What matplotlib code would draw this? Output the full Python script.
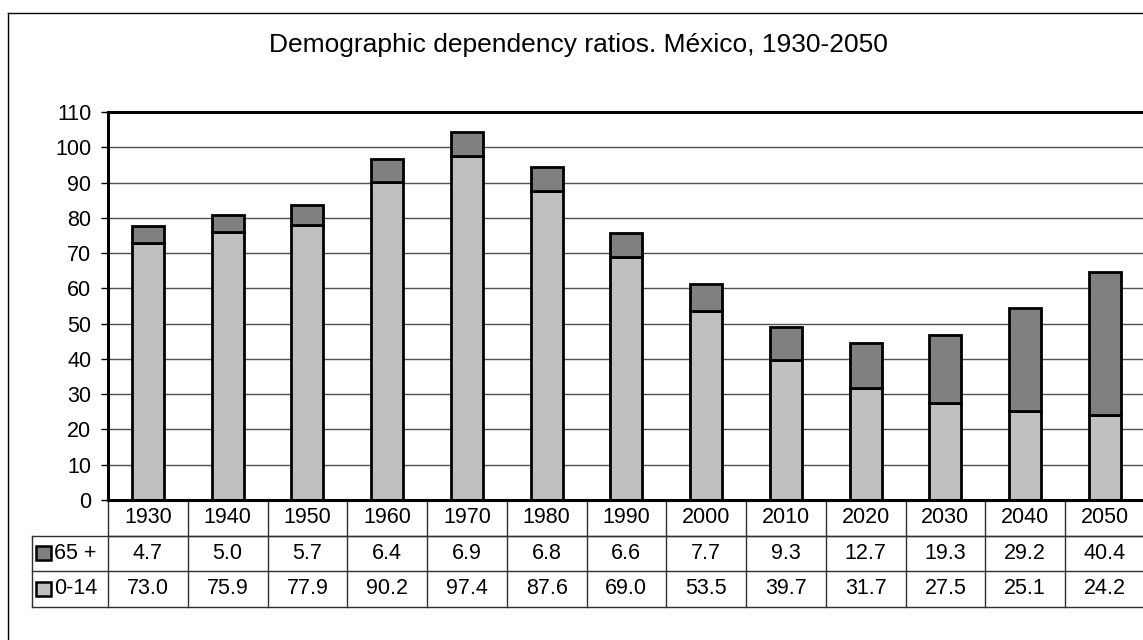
import numpy as np
import matplotlib
matplotlib.use("Agg")
import matplotlib.pyplot as plt
from matplotlib import transforms
from matplotlib.lines import Line2D
from matplotlib.patches import Rectangle

plt.rcParams['font.family'] = ['Liberation Sans', 'DejaVu Sans']

years = ['1930', '1940', '1950', '1960', '1970', '1980', '1990',
         '2000', '2010', '2020', '2030', '2040', '2050']
old_age = [4.7, 5.0, 5.7, 6.4, 6.9, 6.8, 6.6, 7.7, 9.3, 12.7, 19.3, 29.2, 40.4]
young = [73.0, 75.9, 77.9, 90.2, 97.4, 87.6, 69.0, 53.5, 39.7, 31.7, 27.5, 25.1, 24.2]
series_names = ['65 +', '0-14']

C_OLD = '#808080'
C_YOUNG = '#c0c0c0'
F = 15.5
W, H = 1143, 640

fig = plt.figure(figsize=(W / 100, H / 100), dpi=100)
fig.patch.set_facecolor('white')

# plot area in pixel terms: left 108, top 112, bottom 500, 13 columns of ~79.75 px
px_left, px_top, px_bot, col_w = 108, 112, 500, 79.75
ax = fig.add_axes([px_left / W, (H - px_bot) / H,
                   13 * col_w / W, (px_bot - px_top) / H])

x = np.arange(len(years))
ax.bar(x, young, width=0.4, color=C_YOUNG, edgecolor='black', linewidth=2, zorder=3)
ax.bar(x, old_age, width=0.4, bottom=young, color=C_OLD, edgecolor='black',
       linewidth=2, zorder=3)

ax.set_xlim(-0.5, len(years) - 0.5)
ax.set_ylim(0, 110)
ax.set_yticks(np.arange(0, 111, 10))
ax.tick_params(axis='y', labelsize=F, length=5, width=1, pad=7, direction='out')
ax.set_xticks([])
ax.grid(axis='y', color='#505050', linewidth=1, zorder=0)
for sp in ['left', 'bottom', 'top']:
    ax.spines[sp].set_linewidth(2.2)
    ax.spines[sp].set_color('black')
ax.spines['right'].set_visible(False)
ax.spines['bottom'].set_zorder(4)

# data table under the plot
trans = transforms.blended_transform_factory(ax.transData, ax.transAxes)
row_h = 35.5 / (px_bot - px_top)
leg_x = -0.5 - (px_left - 32) / col_w
right_x = len(years) - 0.5 + 0.1
line_kw = dict(color='#303030', linewidth=1, transform=trans, clip_on=False)

# horizontal rules
ax.add_line(Line2D([-0.5, right_x], [-row_h, -row_h], **line_kw))
for r in (1, 2, 3):
    ax.add_line(Line2D([leg_x, right_x], [-r * row_h, -r * row_h], **line_kw))
# vertical rules
for i in range(len(years) + 1):
    ax.add_line(Line2D([i - 0.5, i - 0.5], [0, -3 * row_h], **line_kw))
ax.add_line(Line2D([leg_x, leg_x], [-row_h, -3 * row_h], **line_kw))

for i, yr in enumerate(years):
    ax.text(i, -0.5 * row_h, yr, ha='center', va='center', fontsize=F, transform=trans)
    ax.text(i, -1.5 * row_h, '%.1f' % old_age[i], ha='center', va='center',
            fontsize=F, transform=trans)
    ax.text(i, -2.5 * row_h, '%.1f' % young[i], ha='center', va='center',
            fontsize=F, transform=trans)

# legend keys inside the table
key_w = 15 / col_w
key_h = 14 / (px_bot - px_top)
for r, (name, col) in enumerate(zip(series_names, [C_OLD, C_YOUNG])):
    yc = -(1.5 + r) * row_h
    kx = leg_x + 4 / col_w
    ax.add_patch(Rectangle((kx, yc - key_h / 2), key_w, key_h, facecolor=col,
                           edgecolor='black', linewidth=1.8, transform=trans,
                           clip_on=False))
    ax.text(kx + key_w + 3 / col_w, yc, name, ha='left', va='center',
            fontsize=F, transform=trans)

# chart frame
fig.add_artist(Line2D([8 / W, 8 / W], [0, 1 - 13 / H], color='black', linewidth=1,
                      transform=fig.transFigure))
fig.add_artist(Line2D([8 / W, 1], [1 - 13 / H, 1 - 13 / H], color='black', linewidth=1,
                      transform=fig.transFigure))

fig.text(0.506, 1 - 45 / H, 'Demographic dependency ratios. México, 1930-2050',
         ha='center', va='center', fontsize=19)

plt.savefig('out.png', dpi=100)
